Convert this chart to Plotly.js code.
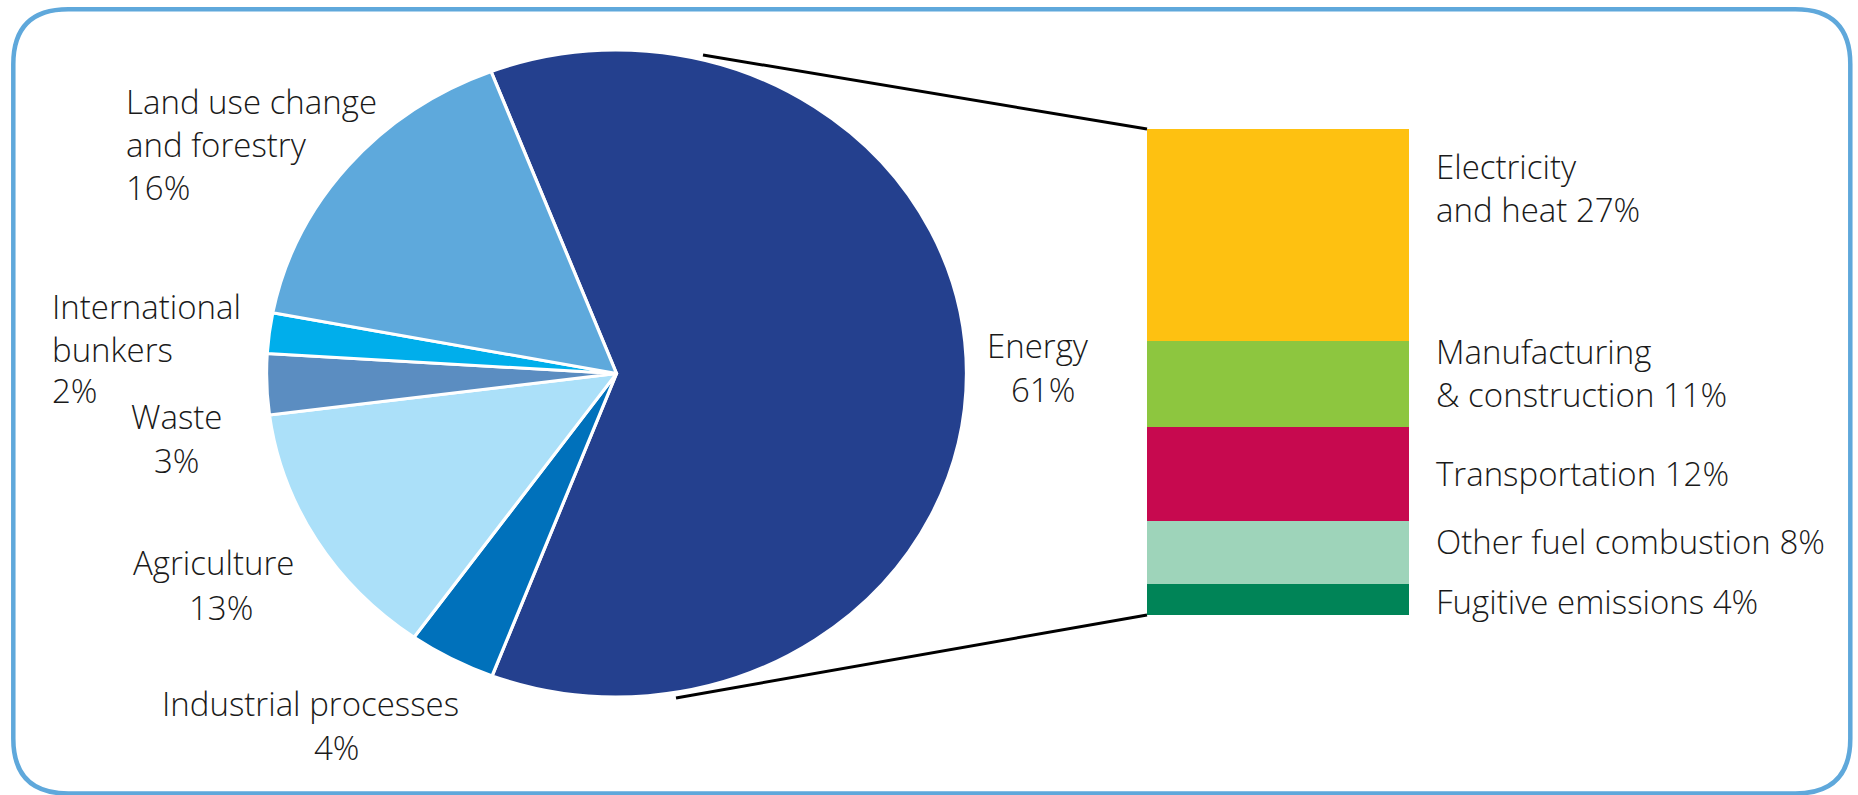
<!DOCTYPE html>
<html><head><meta charset="utf-8">
<script src="https://cdn.plot.ly/plotly-3.0.1.min.js"></script>
<style>
html,body{margin:0;padding:0;background:#fff;overflow:hidden}
#wrap{position:relative;width:1858px;height:795px;overflow:hidden}
#pie,#main{position:absolute;left:0;top:0;width:1858px;height:795px}
#pie{transform:scaleX(1.0819);transform-origin:616.5px 373.5px}
</style></head><body>
<div id="wrap"><div id="pie"></div><div id="main"></div></div>
<script>
// ---- data ----
const sectors = ['Energy','Industrial processes','Agriculture','Waste','International bunkers','Land use change and forestry'];
const sectorShares = [61, 4, 13, 3, 2, 16];
const sectorLabelText = ['Energy','Industrial processes','Agriculture','Waste','International<br>bunkers','Land use change<br>and forestry'];
const sectorColors = ['#24408e','#0071bb','#abe0f9','#5b8dc1','#00aeeb','#5ea9dc'];

const energyUses = ['Electricity and heat','Manufacturing & construction','Transportation','Other fuel combustion','Fugitive emissions'];
const energyShares = [27, 11, 12, 8, 4];
const energyLabelText = ['Electricity<br>and heat','Manufacturing<br>&amp; construction','Transportation','Other fuel combustion','Fugitive emissions'];
const energyColors = ['#fec111','#8dc63f','#c7094f','#9ed4ba','#008457'];

// ---- layout helpers (pixels -> paper) ----
const W = 1858, H = 795;
const px = x => x / W, py = y => 1 - y / H;
const cx = 616.5, cy = 373.5, ry = 323.5;
const FONT = {family:'Open Sans, sans-serif', size:33, color:'#1a1a1a', weight:300};
const ASC = 36.3;

// label positions: [x, baseline, anchor]
const sectorNamePos = [[1038,357,'center'],[310,715,'center'],[213,574,'center'],[176,428,'center'],[50,318,'left'],[124,113,'left']];
const sectorPctPos  = [[1043,401.7,'center'],[336.7,759,'center'],[221,619,'center'],[176,472,'center'],[50,402,'left'],[124,199,'left']];
const energyLabelPos = [[1434,178.3],[1434,363.3],[1434,485.7],[1434,553.3],[1434,613.3]];

function ann(text, x, base, anchor){
  return {text:text, xref:'paper', yref:'paper', x:px(x), y:py(base-ASC), xanchor:anchor, yanchor:'top',
          align:anchor, showarrow:false, font:FONT};
}

// ---- pie ----
Plotly.newPlot('pie', [{
  type:'pie', labels:sectors, values:sectorShares, sort:false, direction:'clockwise', rotation:-21,
  textinfo:'none', hoverinfo:'none', showlegend:false,
  marker:{colors:sectorColors, line:{color:'#ffffff', width:3}},
  domain:{x:[px(cx-ry), px(cx+ry)], y:[py(cy+ry), py(cy-ry)]}
}], {width:W, height:H, margin:{l:0,r:0,t:0,b:0}, paper_bgcolor:'#ffffff', showlegend:false},
{staticPlot:true, displayModeBar:false});

// ---- bar + labels ----
const total = energyShares.reduce((a,b)=>a+b,0);
const barTraces = energyUses.map((u,i)=>({
  type:'bar', x:['Energy'], y:[energyShares[i]], name:u, hoverinfo:'none',
  marker:{color:energyColors[i], line:{width:0}}
})).reverse();

const barL = 1147, barR = 1409, barT = 129, barB = 615;

const annotations = [];
sectors.forEach((s,i)=>{
  annotations.push(ann(sectorLabelText[i], sectorNamePos[i][0], sectorNamePos[i][1], sectorNamePos[i][2]));
  annotations.push(ann(sectorShares[i] + '%', sectorPctPos[i][0], sectorPctPos[i][1], sectorPctPos[i][2]));
});
energyUses.forEach((u,i)=>{
  annotations.push(ann(energyLabelText[i] + ' ' + energyShares[i] + '%', energyLabelPos[i][0], energyLabelPos[i][1], 'left'));
});

// rounded border path
function roundRect(x0,y0,x1,y1,r){
  const P=(x,y)=>px(x)+','+py(y);
  return 'M'+P(x0+r,y0)+' L'+P(x1-r,y0)+' Q'+P(x1,y0)+' '+P(x1,y0+r)+' L'+P(x1,y1-r)+' Q'+P(x1,y1)+' '+P(x1-r,y1)+
         ' L'+P(x0+r,y1)+' Q'+P(x0,y1)+' '+P(x0,y1-r)+' L'+P(x0,y0+r)+' Q'+P(x0,y0)+' '+P(x0+r,y0)+' Z';
}

const shapes = [
  {type:'path', xref:'paper', yref:'paper', path:roundRect(13.3,9.3,1850.3,793.5,55), line:{color:'#5fa8db', width:4.5}, fillcolor:'rgba(0,0,0,0)'},
  {type:'line', xref:'paper', yref:'paper', x0:px(703), y0:py(55), x1:px(barL), y1:py(barT), line:{color:'#000', width:3}},
  {type:'line', xref:'paper', yref:'paper', x0:px(676), y0:py(698), x1:px(barL), y1:py(barB), line:{color:'#000', width:3}}
];

Plotly.newPlot('main', barTraces, {
  width:W, height:H, margin:{l:0,r:0,t:0,b:0},
  paper_bgcolor:'rgba(0,0,0,0)', plot_bgcolor:'rgba(0,0,0,0)',
  barmode:'stack', bargap:0, showlegend:false,
  xaxis:{domain:[px(barL), px(barR)], visible:false, type:'category'},
  yaxis:{domain:[py(barB), py(barT)], range:[0,total], visible:false},
  shapes:shapes, annotations:annotations
}, {staticPlot:true, displayModeBar:false});
</script>
</body></html>
